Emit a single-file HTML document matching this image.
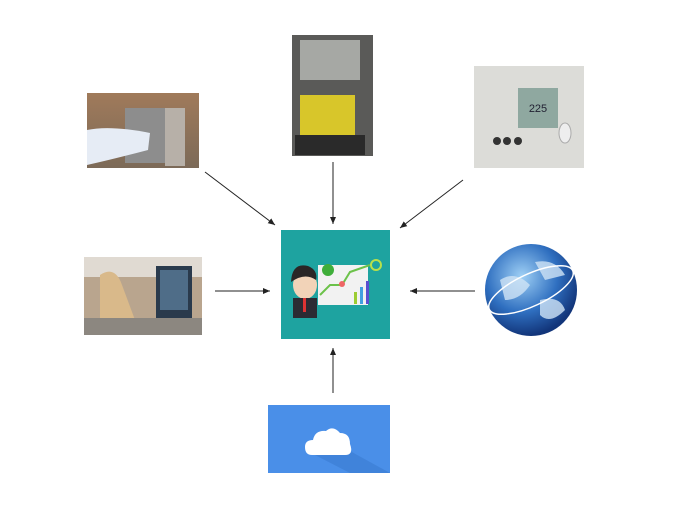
<!DOCTYPE html>
<html><head><meta charset="utf-8"><style>
html,body{margin:0;padding:0;background:#fff;width:680px;height:510px;overflow:hidden}
</style></head><body>
<svg width="680" height="510" viewBox="0 0 680 510" xmlns="http://www.w3.org/2000/svg">
<defs>
<marker id="a" markerWidth="8" markerHeight="8" refX="7" refY="4" orient="auto"><path d="M0,1 L7,4 L0,7 z" fill="#222"/></marker>
<radialGradient id="g" cx="40%" cy="35%" r="65%"><stop offset="0" stop-color="#9fd0f5"/><stop offset="0.6" stop-color="#2f6fc0"/><stop offset="1" stop-color="#12357a"/></radialGradient>
<linearGradient id="p1" x1="0" y1="0" x2="0" y2="1"><stop offset="0" stop-color="#a07a5a"/><stop offset="1" stop-color="#7c6a58"/></linearGradient>
</defs>
<!-- photo 1 -->
<rect x="87" y="93" width="112" height="75" fill="url(#p1)"/>
<rect x="125" y="108" width="55" height="55" fill="#8d8d8d"/>
<rect x="165" y="108" width="20" height="58" fill="#b7b0a8"/>
<path d="M87 130 Q110 125 150 133 L148 150 Q110 160 87 165 z" fill="#e6ecf5"/>
<!-- photo 2 -->
<rect x="292" y="35" width="81" height="121" fill="#5a5a58"/>
<rect x="300" y="40" width="60" height="40" fill="#a6a8a4"/>
<rect x="300" y="95" width="55" height="40" fill="#d8c62a"/>
<rect x="295" y="135" width="70" height="20" fill="#2a2a2a"/>
<!-- thermostat -->
<rect x="474" y="66" width="110" height="102" fill="#dcdcd8"/>
<rect x="518" y="88" width="40" height="40" fill="#8fa8a0"/>
<text x="538" y="112" font-family="Liberation Sans,sans-serif" font-size="11" text-anchor="middle" fill="#223">225</text>
<circle cx="497" cy="141" r="4" fill="#333"/><circle cx="507" cy="141" r="4" fill="#333"/><circle cx="518" cy="141" r="4" fill="#333"/>
<ellipse cx="565" cy="133" rx="6" ry="10" fill="#eee" stroke="#aaa"/>
<!-- woman photo -->
<rect x="84" y="257" width="118" height="78" fill="#b9a58e"/>
<rect x="84" y="257" width="118" height="20" fill="#e0dad2"/>
<rect x="156" y="266" width="36" height="52" fill="#2a3a4c"/>
<rect x="160" y="270" width="28" height="40" fill="#4f6d88"/>
<path d="M100 275 Q115 265 122 285 L135 320 L100 335 z" fill="#d9b98a"/>
<rect x="84" y="318" width="118" height="17" fill="#8c8780"/>
<!-- center -->
<rect x="281" y="230" width="109" height="109" fill="#1ea3a0"/>
<rect x="318" y="265" width="50" height="40" fill="#f2f2f2"/>
<polyline points="320,295 330,285 342,285 350,272 370,265" fill="none" stroke="#6cc24a" stroke-width="2"/>
<circle cx="376" cy="265" r="5" fill="none" stroke="#b8e04a" stroke-width="2"/>
<circle cx="328" cy="270" r="6" fill="#3fae3a"/>
<circle cx="342" cy="284" r="3" fill="#e66"/>
<rect x="354" y="292" width="3" height="12" fill="#9ccc33"/><rect x="360" y="287" width="3" height="17" fill="#42a0e0"/><rect x="366" y="281" width="3" height="23" fill="#5b4fcf"/>
<ellipse cx="305" cy="285" rx="12" ry="14" fill="#f2d3b8"/>
<path d="M291 282 Q292 262 308 266 Q318 270 316 280 Q305 272 291 282z" fill="#2a2626"/>
<rect x="293" y="298" width="24" height="20" fill="#2b2b33"/>
<rect x="303" y="298" width="3" height="14" fill="#d33"/>
<!-- globe -->
<circle cx="531" cy="290" r="46" fill="url(#g)"/>
<path d="M500 280 Q515 270 530 285 Q520 300 505 300z M540 300 Q560 295 565 310 Q550 325 540 315z M535 262 Q555 258 565 275 L545 280z" fill="#cfe3f5" opacity="0.8"/>
<ellipse cx="531" cy="290" rx="46" ry="16" fill="none" stroke="#fff" stroke-width="1.5" transform="rotate(-25 531 290)"/>
<!-- cloud -->
<rect x="268" y="405" width="122" height="68" fill="#4a8fe8"/>
<path d="M330 440 L390 473 L350 473 L315 455z" fill="#3b7bd0" opacity="0.6"/>
<path d="M312 455 Q305 455 305 447 Q305 440 313 440 Q315 430 326 431 Q333 425 340 433 Q350 433 350 444 Q354 455 345 455 z" fill="#fff"/>
<!-- arrows -->
<g stroke="#222" stroke-width="1" marker-end="url(#a)">
<line x1="205" y1="172" x2="275" y2="225"/>
<line x1="333" y1="162" x2="333" y2="224"/>
<line x1="463" y1="180" x2="400" y2="228"/>
<line x1="215" y1="291" x2="270" y2="291"/>
<line x1="475" y1="291" x2="410" y2="291"/>
<line x1="333" y1="393" x2="333" y2="348"/>
</g>
</svg>
</body></html>
